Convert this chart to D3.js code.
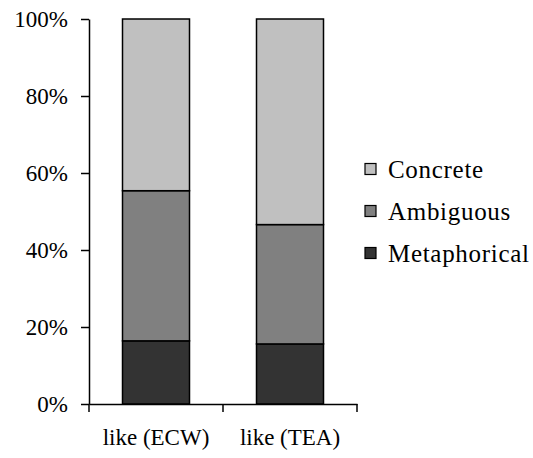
<!DOCTYPE html>
<html>
<head>
<meta charset="utf-8">
<script src="https://cdn.jsdelivr.net/npm/d3@7"></script>
<style>
  body { margin: 0; background: #fff; }
  svg text { font-family: "Times New Roman", "Liberation Serif", serif; fill: #000; }
</style>
</head>
<body>
<script>
var width = 533;
var height = 458;

// data (percent of each column)
var categories = ["like (ECW)", "like (TEA)"];
var seriesNames = ["Metaphorical", "Ambiguous", "Concrete"];
var metaphorical = [16.4, 15.6];
var ambiguous = [39.0, 31.0];
var concrete = [44.6, 53.4];
var yTicks = [0, 20, 40, 60, 80, 100];
var colors = ["#333333", "#808080", "#c0c0c0"];

var rows = categories.map(function(c, i) {
  return { cat: c, Metaphorical: metaphorical[i], Ambiguous: ambiguous[i], Concrete: concrete[i] };
});

var plotLeft = 89, plotRight = 357, plotTop = 19, plotBottom = 404;

var svg = d3.select("body")
    .append("svg")
    .attr("width", width)
    .attr("height", height);

var x = d3.scaleBand()
    .domain(categories)
    .range([plotLeft, plotRight])
    .paddingInner(0.5)
    .paddingOuter(0.25);

var y = d3.scaleLinear()
    .domain([0, 100])
    .range([plotBottom, plotTop]);

var stacked = d3.stack().keys(seriesNames)(rows);

svg.selectAll("g.layer")
    .data(stacked)
    .enter().append("g")
    .attr("class", "layer")
    .attr("fill", function(d, i) { return colors[i]; })
  .selectAll("rect")
    .data(function(d) { return d; })
    .enter().append("rect")
    .attr("x", function(d) { return x(d.data.cat); })
    .attr("width", x.bandwidth())
    .attr("y", function(d) { return y(d[1]); })
    .attr("height", function(d) { return y(d[0]) - y(d[1]); })
    .attr("stroke", "#000")
    .attr("stroke-width", 1.5);

// y axis
var yAxis = svg.append("g")
    .attr("transform", "translate(" + plotLeft + ",0)")
    .call(d3.axisLeft(y).tickValues(yTicks).tickSize(8).tickSizeOuter(0).tickPadding(13)
      .tickFormat(function(d) { return d + "%"; }));
yAxis.attr("font-family", null).attr("font-size", null);
yAxis.selectAll("path, line").attr("stroke", "#000").attr("stroke-width", 1.5);
yAxis.selectAll("text").style("font-size", "23px").attr("fill", "#000");

// x axis
var xAxis = svg.append("g")
    .attr("transform", "translate(0," + plotBottom + ")")
    .call(d3.axisBottom(x).tickSize(0).tickSizeOuter(0).tickPadding(25));
xAxis.attr("font-family", null).attr("font-size", null);
xAxis.select("path").attr("stroke", "#000").attr("stroke-width", 1.5);
xAxis.selectAll("text").style("font-size", "23px").attr("fill", "#000");

// boundary ticks between categories
var bounds = d3.range(categories.length + 1).map(function(i) { return plotLeft + i * x.step(); });
xAxis.selectAll("line.bound")
    .data(bounds)
    .enter().append("line")
    .attr("class", "bound")
    .attr("x1", function(d) { return d; })
    .attr("x2", function(d) { return d; })
    .attr("y1", 0)
    .attr("y2", 8)
    .attr("stroke", "#000")
    .attr("stroke-width", 1.5);

// legend (top to bottom: Concrete, Ambiguous, Metaphorical)
var legendItems = seriesNames.map(function(s, i) { return { name: s, color: colors[i] }; }).reverse();
var legend = svg.selectAll("g.legend")
    .data(legendItems)
    .enter().append("g")
    .attr("class", "legend")
    .attr("transform", function(d, i) { return "translate(365," + (169 + i * 42) + ")"; });

legend.append("rect")
    .attr("x", 0)
    .attr("y", -5.5)
    .attr("width", 11)
    .attr("height", 11)
    .attr("fill", function(d) { return d.color; })
    .attr("stroke", "#000")
    .attr("stroke-width", 1.2);

legend.append("text")
    .attr("x", 23)
    .attr("y", 9)
    .style("font-size", "25px")
    .style("letter-spacing", "0.7px")
    .text(function(d) { return d.name; });
</script>
</body>
</html>
